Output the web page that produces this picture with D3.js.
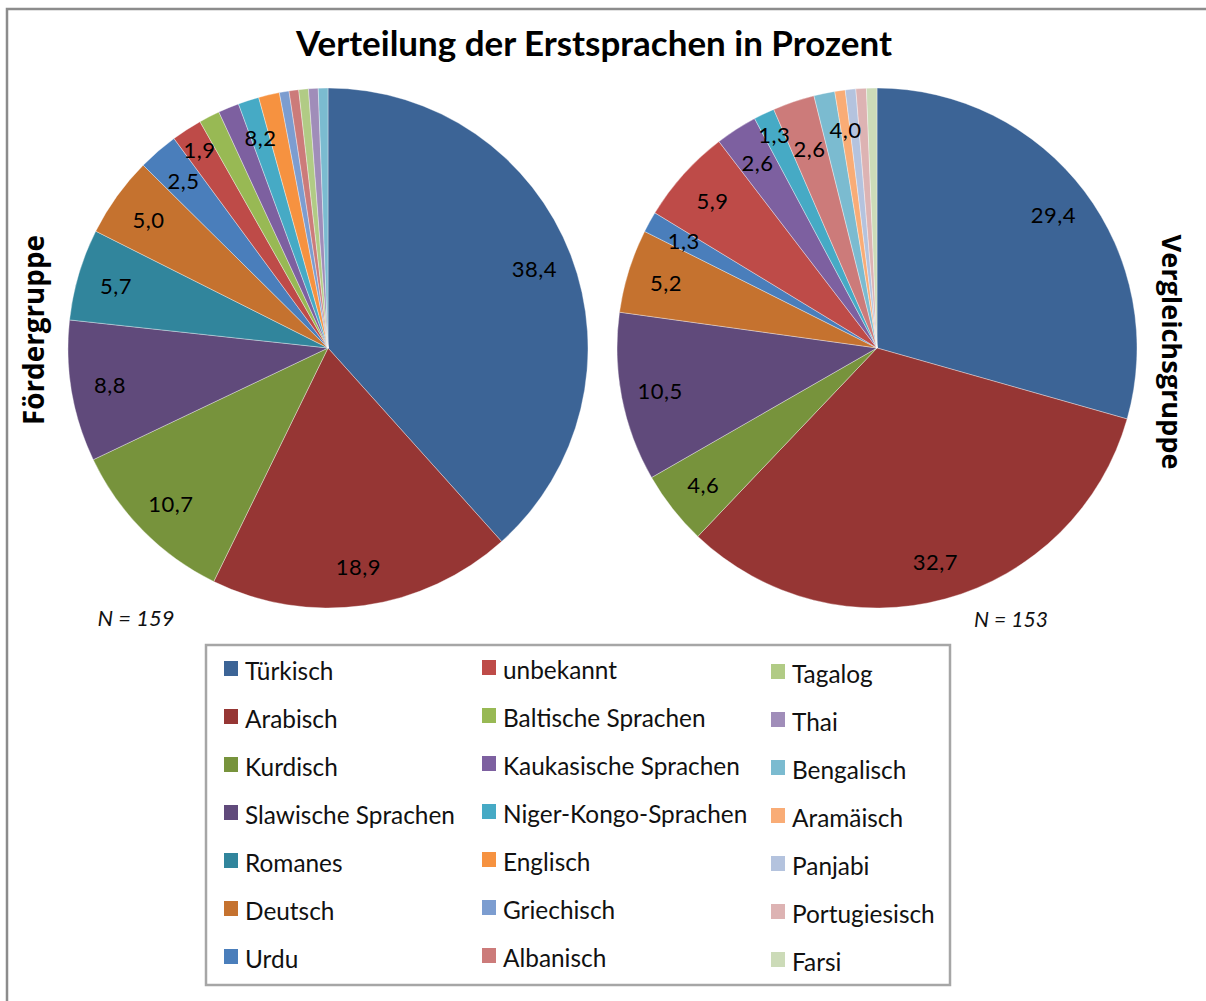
<!DOCTYPE html>
<html><head><meta charset="utf-8">
<script src="https://cdn.jsdelivr.net/npm/d3@7"></script>
<style>html,body{margin:0;padding:0;background:#fff;}svg{display:block;}</style>
</head><body>
<svg id="chart" width="1206" height="1001"></svg>
<script>
const categories = ["Türkisch","Arabisch","Kurdisch","Slawische Sprachen","Romanes","Deutsch","Urdu",
  "unbekannt","Baltische Sprachen","Kaukasische Sprachen","Niger-Kongo-Sprachen","Englisch","Griechisch","Albanisch",
  "Tagalog","Thai","Bengalisch","Aramäisch","Panjabi","Portugiesisch","Farsi"];
const foerderValues = [38.4,18.9,10.7,8.8,5.7,5.0,2.5,1.9,1.3,1.3,1.3,1.3,0.6,0.6,0.6,0.6,0.6,0,0,0,0];
const vergleichValues = [29.4,32.7,4.6,10.5,0,5.2,1.3,5.9,0,2.6,1.3,0,0,2.6,0,0,1.3,0.65,0.65,0.65,0.65];
const foerderLabels = ["38,4","18,9","10,7","8,8","5,7","5,0","2,5","1,9","","","8,2","","","","","","","","","",""];
const vergleichLabels = ["29,4","32,7","4,6","10,5","","5,2","1,3","5,9","","2,6","1,3","","","2,6","","","","4,0","","",""];
const colors = ["#3c6496","#963634","#77933c","#604a7b","#31859c","#c5722f","#4a7ebb",
  "#be4b48","#98b954","#7d60a0","#46aac5","#f69240","#7c9dd0","#cc7b7a",
  "#b1cb85","#a08db9","#7bbbd0","#f9ac76","#b4c3de","#ddb3b3","#ccdbb8"];
const groups = [
  {name:"Fördergruppe", n:"N = 159", values:foerderValues, labels:foerderLabels},
  {name:"Vergleichsgruppe", n:"N = 153", values:vergleichValues, labels:vergleichLabels}
];
const title = "Verteilung der Erstsprachen in Prozent";

const svg = d3.select("#chart");
const FONT = "Lato, 'Open Sans', sans-serif";

function fit(sel, target){
  const w = sel.node().getComputedTextLength();
  const fs = parseFloat(sel.attr("font-size"));
  sel.attr("font-size", fs*target/w);
  return fs*target/w;
}

// frame
svg.append("rect").attr("x",7).attr("y",9).attr("width",1215).attr("height",1010)
  .attr("fill","none").attr("stroke","#8c8c8c").attr("stroke-width",2.5);

// title
const t = svg.append("text").attr("x",594).attr("y",56).attr("text-anchor","middle")
  .attr("font-family",FONT).attr("font-weight","bold").attr("font-size",30).attr("fill","#000").text(title);
fit(t,596);

const color = d3.scaleOrdinal().domain(categories).range(colors);
const pie = d3.pie().sort(null).value(d=>d.v);
const R = 260;
const arc = d3.arc().innerRadius(0).outerRadius(R);
const radiusFactors = [0.85, 0.91, 0.81, 0.95, 0.77];
const centers = [[328,348],[877,348]];

groups.forEach((g,gi)=>{
  const data = categories.map((c,i)=>({c, v:g.values[i], l:g.labels[i]}));
  const gg = svg.append("g").attr("transform",`translate(${centers[gi][0]},${centers[gi][1]})`);
  const arcs = pie(data).filter(d=>d.data.v>0);
  gg.selectAll("path").data(arcs).join("path")
    .attr("d",arc).attr("fill",d=>color(d.data.c))
    .attr("stroke","#ffffff").attr("stroke-width",0.6).attr("stroke-opacity",0.6);
  const placed = [];
  gg.selectAll("text.lbl").data(arcs.filter(d=>d.data.l)).join("text").attr("class","lbl")
    .attr("text-anchor","middle").attr("dominant-baseline","central")
    .attr("font-family",FONT).attr("font-size",22).attr("letter-spacing",0.5).attr("fill","#000")
    .text(d=>d.data.l)
    .each(function(d){
      const w = this.getComputedTextLength()+2, h = 20;
      let pos = null;
      for (const f of radiusFactors){
        const c = d3.arc().innerRadius(R*f).outerRadius(R*f).centroid(d);
        const ok = placed.every(p => Math.abs(p.x-c[0]) > (p.w+w)/2 || Math.abs(p.y-c[1]) > (p.h+h)/2);
        if (ok){ pos = c; break; }
      }
      if (!pos) pos = d3.arc().innerRadius(R*0.85).outerRadius(R*0.85).centroid(d);
      placed.push({x:pos[0], y:pos[1], w, h});
      d3.select(this).attr("transform",`translate(${pos})`);
    });
});

// side labels
const s1 = svg.append("text").attr("transform","translate(44,330) rotate(-90)").attr("text-anchor","middle")
  .attr("font-family","'Open Sans', sans-serif").attr("font-weight","bold").attr("font-size",22).text("Fördergruppe");
fit(s1,190);
const s2 = svg.append("text").attr("transform","translate(1162,352) rotate(90)").attr("text-anchor","middle")
  .attr("font-family","'Open Sans', sans-serif").attr("font-weight","bold").attr("font-size",22).text("Vergleichsgruppe");
fit(s2,235);

// N labels
const n1 = svg.append("text").attr("x",136).attr("y",626).attr("text-anchor","middle")
  .attr("font-family",FONT).attr("font-style","italic").attr("font-size",19).attr("fill","#111").text(groups[0].n);
fit(n1,77);
const n2 = svg.append("text").attr("x",1011).attr("y",627).attr("text-anchor","middle")
  .attr("font-family",FONT).attr("font-style","italic").attr("font-size",19).attr("fill","#111").text(groups[1].n);
fit(n2,74);

// legend
svg.append("rect").attr("x",206).attr("y",645).attr("width",744).attr("height",340)
  .attr("fill","#fff").attr("stroke","#a6a6a6").attr("stroke-width",2.5);
const colX = [224,482,771];
const colY = [661,660,664];
const rowH = 48;
const probe = svg.append("text").attr("font-family",FONT).attr("font-size",20).text("Kaukasische Sprachen");
const lfs = fit(probe,237); probe.remove();
const leg = svg.append("g");
categories.forEach((c,i)=>{
  const col = Math.floor(i/7), row = i%7;
  const x = colX[col], y = colY[col] + row*rowH;
  leg.append("rect").attr("x",x).attr("y",y).attr("width",14).attr("height",15).attr("fill",color(c));
  leg.append("text").attr("x",x+21).attr("y",y+9).attr("dominant-baseline","central")
    .attr("font-family",FONT).attr("font-size",lfs).attr("fill","#111").text(c);
});
</script>
</body></html>
